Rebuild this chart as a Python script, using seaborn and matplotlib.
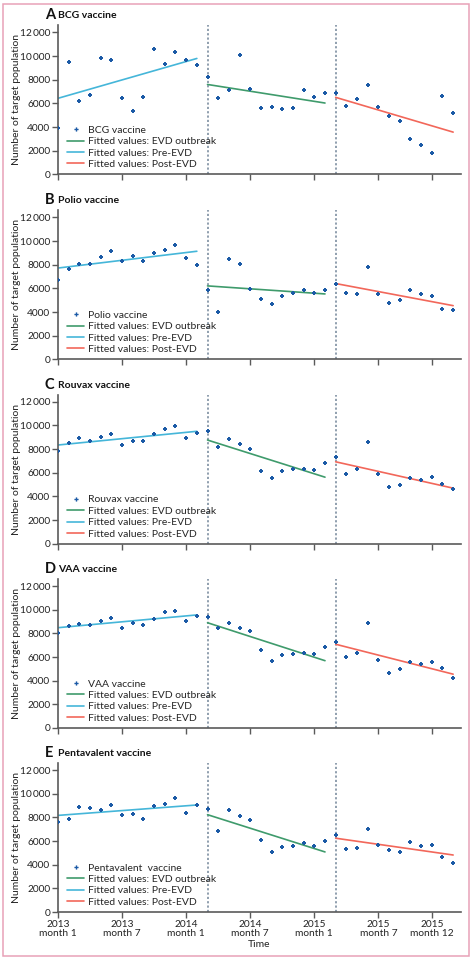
import matplotlib
matplotlib.use("Agg")
import matplotlib.pyplot as plt
import matplotlib.patches as mpatches
from matplotlib.lines import Line2D
import pandas as pd
import seaborn as sns

sns.set_style("ticks")
plt.rcParams['font.family'] = ['Lato', 'DejaVu Sans']

months = list(range(1, 39))
tick_pos = [1, 7, 13, 19, 25, 31, 36]
tick_labels = ['2013\nmonth 1', '2013\nmonth 7', '2014\nmonth 1', '2014\nmonth 7',
               '2015\nmonth 1', '2015\nmonth 7', '2015\nmonth 12']
breaks = [15, 27]

pre_x = [1, 14]
evd_x = [15, 26]
post_x = [27, 38]

letters = ['A', 'B', 'C', 'D', 'E']
names = ['BCG vaccine', 'Polio vaccine', 'Rouvax vaccine', 'VAA vaccine', 'Pentavalent  vaccine']
titles = ['BCG vaccine', 'Polio vaccine', 'Rouvax vaccine', 'VAA vaccine', 'Pentavalent vaccine']

bcg = [3950, 9500, 6230, 6710, 9830, 9660, 6490, 5340, 6570, 10570, 9370, 10370, 9660, 9260,
       8200, 6460, 7110, 10060, 7200, 5600, 5660, 5540, 5600, 7140, 6540, 6910,
       6910, 5770, 6370, 7540, 5710, 4970, 4490, 2970, 2490, 1800, 6600, 5170]
polio = [6750, 7600, 8030, 8030, 8650, 9130, 8340, 8740, 8340, 9020, 9280, 9650, 8570, 7940,
         5840, 4030, 8510, 8060, 5930, 5080, 4710, 5360, 5620, 5900, 5650, 5900,
         6410, 5590, 5500, 7830, 5500, 4800, 4990, 5840, 5530, 5390, 4280, 4170]
rouvax = [7810, 8520, 8940, 8660, 9000, 9260, 8320, 8720, 8720, 9260, 9740, 9930, 8920, 9400,
          9510, 8210, 8860, 8410, 7980, 6170, 5600, 6140, 6280, 6310, 6230, 6850,
          7300, 5920, 6340, 8580, 5860, 4780, 4980, 5550, 5430, 5630, 5040, 4670]
vaa = [8050, 8620, 8790, 8670, 9040, 9330, 8420, 8870, 8730, 9190, 9780, 9900, 9020, 9440,
       9410, 8450, 8870, 8420, 8160, 6600, 5630, 6170, 6290, 6340, 6260, 6850,
       7310, 6000, 6340, 8870, 5750, 4660, 5010, 5550, 5380, 5550, 5030, 4210]
penta = [7580, 7890, 8850, 8800, 8600, 9080, 8170, 8260, 7830, 8970, 9140, 9650, 8340, 9050,
         8710, 6890, 8650, 8090, 7800, 6070, 5050, 5530, 5620, 5870, 5590, 6010,
         6530, 5360, 5450, 7040, 5650, 5280, 5080, 5930, 5590, 5700, 4650, 4170]

# fitted line endpoints (start, end)
fit_pre = [[6430, 9800], [7720, 9140], [8350, 9510], [8480, 9560], [8170, 9050]]
fit_evd = [[7600, 6030], [6210, 5530], [8770, 5630], [8900, 5690], [8230, 5080]]
fit_post = [[6510, 3570], [6410, 4540], [6930, 4700], [7080, 4550], [6240, 4820]]

series = [bcg, polio, rouvax, vaa, penta]

c_dot = '#1b5aa6'
c_evd = '#3f9b6c'
c_pre = '#45b6d9'
c_post = '#f2675a'
c_dash = '#8797a8'
c_axis = '#5a5a5a'

fig = plt.figure(figsize=(4.72, 9.6), dpi=100)
bottoms = [0.8184, 0.6257, 0.4336, 0.2417, 0.05]
left, width, height = 0.1229, 0.853, 0.1552

for k in range(5):
    ax = fig.add_axes([left, bottoms[k], width, height])
    df = pd.DataFrame({'month': months, 'value': series[k]})

    for b in breaks:
        ax.axvline(b, color=c_dash, linestyle=(0, (1.2, 1.2)), linewidth=1.3, zorder=1)

    sns.lineplot(x=evd_x, y=fit_evd[k], ax=ax, color=c_evd, linewidth=1.2)
    sns.lineplot(x=pre_x, y=fit_pre[k], ax=ax, color=c_pre, linewidth=1.2)
    sns.lineplot(x=post_x, y=fit_post[k], ax=ax, color=c_post, linewidth=1.2)
    sns.scatterplot(data=df, x='month', y='value', ax=ax, color=c_dot, marker='P',
                    s=8, linewidth=0, zorder=3)

    ax.set_xlim(1, 38.7)
    ax.set_ylim(0, 12600)
    ax.set_yticks([0, 2000, 4000, 6000, 8000, 10000, 12000])
    ax.set_yticklabels(['0', '2000', '4000', '6000', '8000', '10\u2009000', '12\u2009000'])
    ax.set_xticks(tick_pos)
    if k == 4:
        ax.set_xticklabels(tick_labels, linespacing=1.1)
        ax.set_xlabel('Time', fontsize=7.5, labelpad=1, color='#222222')
    else:
        ax.set_xticklabels([])
        ax.set_xlabel('')
    ax.set_ylabel('Number of target population', fontsize=7.5, color='#222222')
    ax.yaxis.set_label_coords(-0.092, 0.5)

    sns.despine(ax=ax)
    for sp in ['left', 'bottom']:
        ax.spines[sp].set_color(c_axis)
        ax.spines[sp].set_linewidth(1.2)
    ax.tick_params(axis='both', length=4, width=1, color=c_axis, labelsize=7.3,
                   labelcolor='#222222', pad=1.5)

    handles = [
        Line2D([], [], color=c_dot, marker='P', markersize=3, linestyle='none', markeredgewidth=0),
        Line2D([], [], color=c_evd, linewidth=1.2),
        Line2D([], [], color=c_pre, linewidth=1.2),
        Line2D([], [], color=c_post, linewidth=1.2),
    ]
    labels = [names[k], 'Fitted values: EVD outbreak', 'Fitted values: Pre-EVD',
              'Fitted values: Post-EVD']
    ax.legend(handles, labels, loc='lower left', bbox_to_anchor=(0.01, 0.0), frameon=False,
              fontsize=7.5, handlelength=1.6, handletextpad=0.35, labelspacing=0.2,
              borderaxespad=0.3, borderpad=0.2)

    top = bottoms[k] + height
    fig.text(0.0953, top + 0.0105, letters[k], fontsize=10.5, fontweight='bold',
             va='center', ha='left', color='#111111')
    fig.text(0.123, top + 0.0100, titles[k], fontsize=7.5, fontweight='bold',
             va='center', ha='left', color='#111111')

border = mpatches.Rectangle((3 / 472, 4 / 960), 466 / 472, 952 / 960, transform=fig.transFigure,
                            fill=False, edgecolor='#e8a2b8', linewidth=1.1)
fig.patches.append(border)

fig.savefig('out.png', dpi=100)
